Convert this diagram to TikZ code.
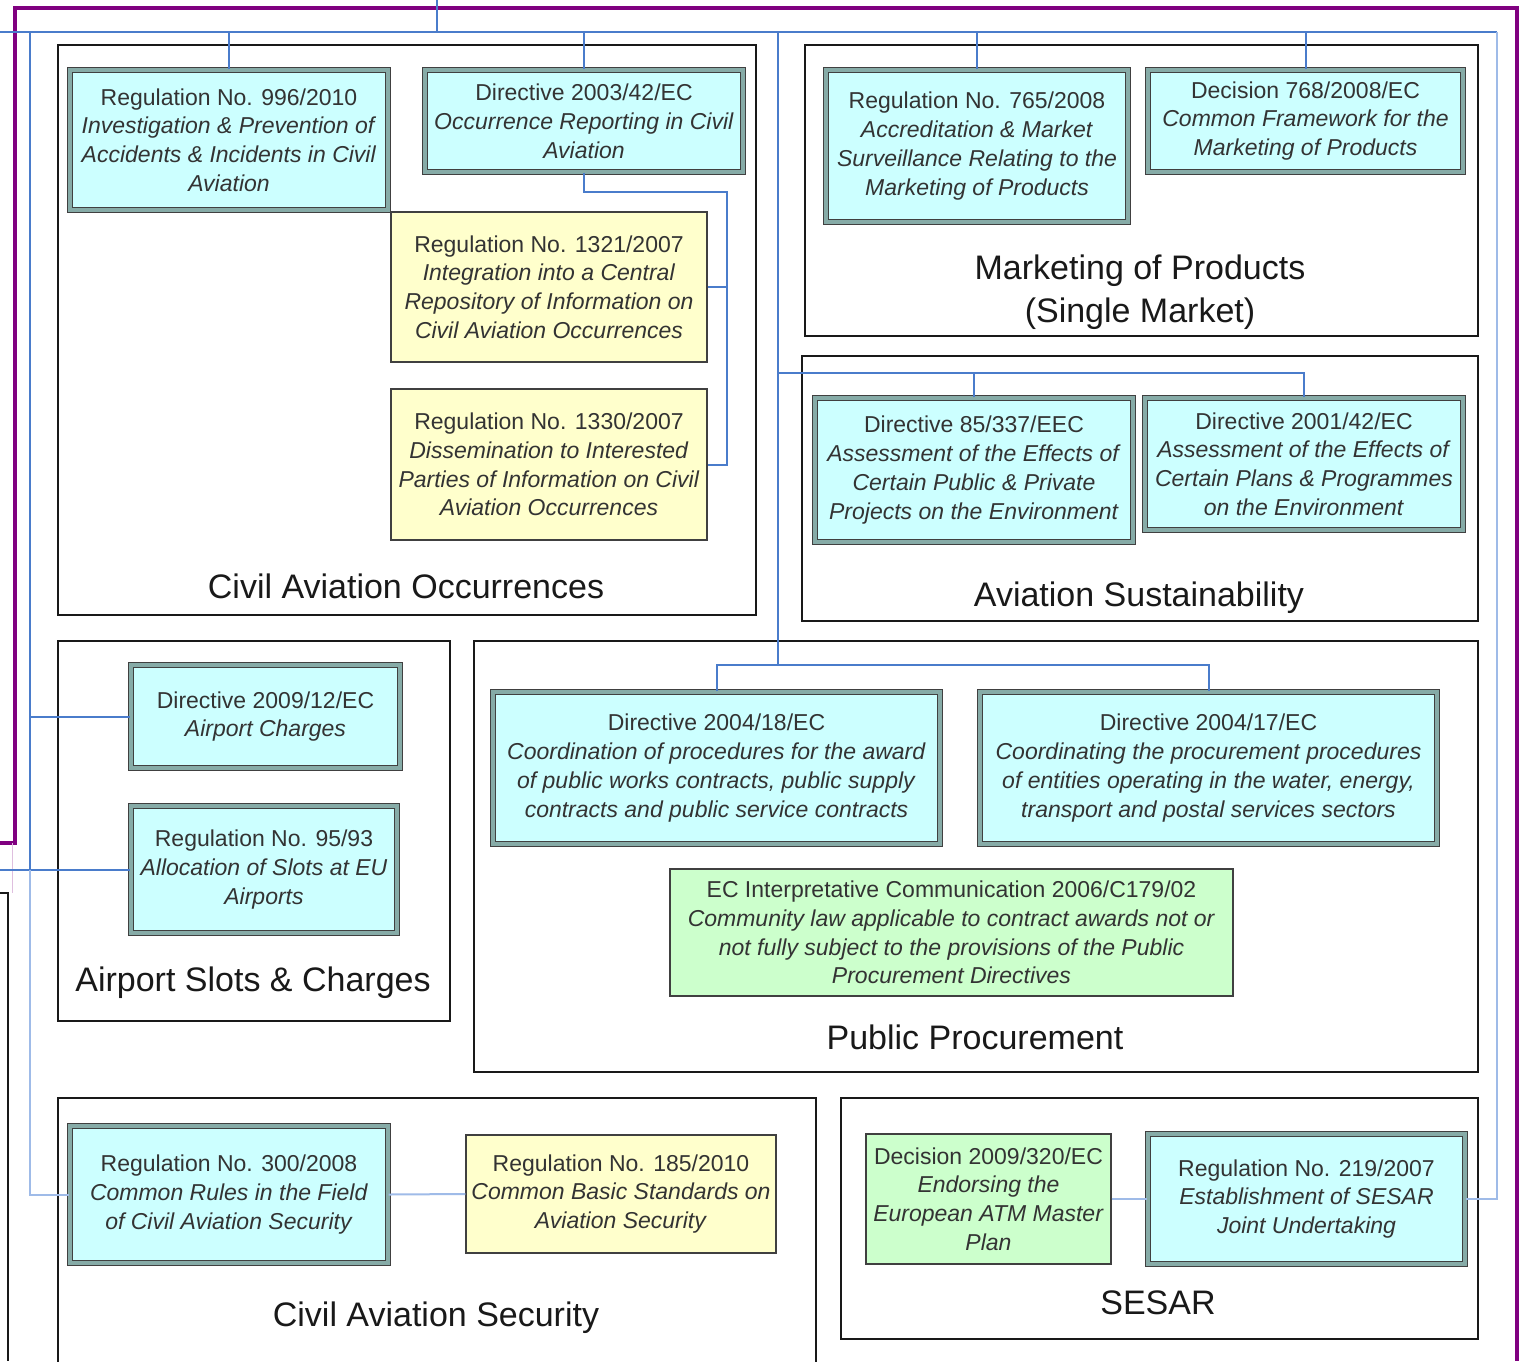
\documentclass[tikz,border=0pt]{standalone}
\usepackage{fontspec}
\setmainfont{Liberation Sans}
\definecolor{busblue}{HTML}{4A7CCB}
\definecolor{buslight}{HTML}{9FBBE8}
\definecolor{frameviolet}{HTML}{800080}
\definecolor{regcyan}{HTML}{CCFFFF}
\definecolor{regframe}{HTML}{86ABA7}
\definecolor{noteyellow}{HTML}{FFFFCC}
\definecolor{notegreen}{HTML}{CCFFCC}
\definecolor{boxtext}{HTML}{333333}

\begin{document}
\begin{tikzpicture}[x=0.5pt, y=-0.5pt,
    group/.style={draw=black!90, line width=1.4pt, fill=white},
    grouplabel/.style={anchor=base, text=black!90, font=\fontsize{17}{21.5}\selectfont},
    regbox/.style={draw=black!75, double=regframe, double distance=1.6pt, line width=0.6pt,
      fill=regcyan, align=center, inner sep=0pt, text=boxtext, font=\fontsize{11.5}{14.4}\selectfont},
    notebox/.style={draw=black!75, line width=0.7pt, fill=noteyellow, align=center,
      inner sep=0pt, text=boxtext, font=\fontsize{11.5}{14.4}\selectfont},
    greenbox/.style={notebox, fill=notegreen},
    bus/.style={draw=busblue, line width=1pt},
    buslight/.style={draw=buslight, line width=1pt}]
  \useasboundingbox (0,0) rectangle (1521,1361);
  \fill[white] (0,0) rectangle (1521,1361);

  % outer frames
  \draw[frameviolet, line width=1.8pt] (0,843) -- (15,843) -- (15,8) -- (1517,8) -- (1517,1361);
  \draw[frameviolet!25, line width=0.5pt] (12,843) -- (12,893);
  \draw[black!90, line width=1.4pt] (0,893) -- (8,893) -- (8,1361);

  % subject groups
  \draw[group] (58,45) rectangle (756,615);
  \node[grouplabel] (occlabel) at (406,598) {Civil Aviation Occurrences};
  \draw[group] (805,45) rectangle (1478,336);
  \node[grouplabel, anchor=center, align=center] (mktlabel) at (1140,292) {Marketing of Products\\(Single Market)};
  \draw[group] (802,356) rectangle (1478,621);
  \node[grouplabel] (suslabel) at (1139,606) {Aviation Sustainability};
  \draw[group] (58,641) rectangle (450,1021);
  \node[grouplabel] (slotlabel) at (253,991) {Airport Slots \& Charges};
  \draw[group] (474,641) rectangle (1478,1072);
  \node[grouplabel] (proclabel) at (975,1049) {Public Procurement};
  \draw[group] (58,1366) -- (58,1098) -- (816,1098) -- (816,1366);
  \node[grouplabel] (seclabel) at (436,1326) {Civil Aviation Security};
  \draw[group] (841,1098) rectangle (1478,1339);
  \node[grouplabel] (sesarlabel) at (1158,1314) {SESAR};

  % legislation boxes
  \node[regbox, minimum width=159pt, minimum height=70pt] (r996) at (229,140)
    {Regulation No. 996/2010\\\textit{Investigation \& Prevention of}\\\textit{Accidents \& Incidents in Civil}\\\textit{Aviation}};
  \node[regbox, minimum width=159pt, minimum height=51pt] (d2003) at (584,121)
    {Directive 2003/42/EC\\\textit{Occurrence Reporting in Civil}\\\textit{Aviation}};
  \node[notebox, minimum width=158pt, minimum height=75pt] (r1321) at (549,287)
    {Regulation No. 1321/2007\\\textit{Integration into a Central}\\\textit{Repository of Information on}\\\textit{Civil Aviation Occurrences}};
  \node[notebox, minimum width=158pt, minimum height=75.5pt] (r1330) at (549,464.5)
    {Regulation No. 1330/2007\\\textit{Dissemination to Interested}\\\textit{Parties of Information on Civil}\\\textit{Aviation Occurrences}};
  \node[regbox, minimum width=151pt, minimum height=76pt] (r765) at (977,146)
    {Regulation No. 765/2008\\\textit{Accreditation \& Market}\\\textit{Surveillance Relating to the}\\\textit{Marketing of Products}};
  \node[regbox, minimum width=157.5pt, minimum height=51pt] (d768) at (1305.5,121)
    {Decision 768/2008/EC\\\textit{Common Framework for the}\\\textit{Marketing of Products}};
  \node[regbox, minimum width=159pt, minimum height=72pt] (d85) at (974,470)
    {Directive 85/337/EEC\\\textit{Assessment of the Effects of}\\\textit{Certain Public \& Private}\\\textit{Projects on the Environment}};
  \node[regbox, minimum width=159pt, minimum height=66pt] (d2001) at (1304,464)
    {Directive 2001/42/EC\\\textit{Assessment of the Effects of}\\\textit{Certain Plans \& Programmes}\\\textit{on the Environment}};
  \node[regbox, minimum width=134.5pt, minimum height=51.5pt] (d2009) at (265.5,716.5)
    {Directive 2009/12/EC\\\textit{Airport Charges}};
  \node[regbox, minimum width=133pt, minimum height=63.5pt] (r95) at (264,869.5)
    {Regulation No. 95/93\\\textit{Allocation of Slots at EU}\\\textit{Airports}};
  \node[regbox, minimum width=223.5pt, minimum height=76pt] (d2004a) at (716.5,768)
    {Directive 2004/18/EC\\\textit{Coordination of procedures for the award}\\\textit{of public works contracts, public supply}\\\textit{contracts and public service contracts}};
  \node[regbox, minimum width=228.5pt, minimum height=76pt] (d2004b) at (1208.5,768)
    {Directive 2004/17/EC\\\textit{Coordinating the procurement procedures}\\\textit{of entities operating in the water, energy,}\\\textit{transport and postal services sectors}};
  \node[greenbox, minimum width=281.5pt, minimum height=63.5pt] (ec2006) at (951.5,932.5)
    {EC Interpretative Communication 2006/C179/02\\\textit{Community law applicable to contract awards not or}\\\textit{not fully subject to the provisions of the Public}\\\textit{Procurement Directives}};
  \node[regbox, minimum width=159pt, minimum height=68.5pt] (r300) at (229,1194.5)
    {Regulation No. 300/2008\\\textit{Common Rules in the Field}\\\textit{of Civil Aviation Security}};
  \node[notebox, minimum width=155pt, minimum height=59pt] (r185) at (621,1194)
    {Regulation No. 185/2010\\\textit{Common Basic Standards on}\\\textit{Aviation Security}};
  \node[greenbox, minimum width=122.5pt, minimum height=65pt] (d2009320) at (988.5,1199)
    {Decision 2009/320/EC\\\textit{Endorsing the}\\\textit{European ATM Master}\\\textit{Plan}};
  \node[regbox, minimum width=158.5pt, minimum height=65pt] (r219) at (1306.5,1199)
    {Regulation No. 219/2007\\\textit{Establishment of SESAR}\\\textit{Joint Undertaking}};

  % link lines
  \coordinate (feed) at (437,0);
  \coordinate (busL) at (0,32);
  \coordinate (busR) at (1497,32);
  \coordinate (trunkL) at (30,32);
  \coordinate (trunkM) at (778,32);
  \coordinate (susbus) at (778,373);
  \coordinate (procbus) at (778,665);
  \coordinate (occbus) at (727,192);

  \draw[bus] (feed) -- (feed |- busL);
  \draw[bus] (busL) -- (busR);
  \draw[buslight] (busR) -- (busR |- r219.east) -- (r219.east);
  \draw[bus] (r996.north) -- (r996.north |- busL);
  \draw[bus] (d2003.north) -- (d2003.north |- busL);
  \draw[bus] (r765.north) -- (r765.north |- busL);
  \draw[bus] (d768.north) -- (d768.north |- busL);
  \draw[bus] (d2003.south) -- (d2003.south |- occbus) -- (occbus) -- (occbus |- r1330.east) -- (r1330.east);
  \draw[bus] (r1321.east) -- (r1321.east -| occbus);
  \draw[bus] (trunkM) -- (procbus);
  \draw[bus] (susbus) -- (d2001.north |- susbus) -- (d2001.north);
  \draw[bus] (d85.north) -- (d85.north |- susbus);
  \draw[bus] (d2004a.north) -- (d2004a.north |- procbus) -- (d2004b.north |- procbus) -- (d2004b.north);
  \draw[bus] (trunkL) -- (trunkL |- r95.west);
  \draw[bus] (trunkL |- d2009.west) -- (d2009.west);
  \draw[bus] (busL |- r95.west) -- (r95.west);
  \draw[buslight] (trunkL |- r95.west) -- (trunkL |- r300.west) -- (r300.west);
  \draw[buslight] (r300.east) -- (r185.west);
  \draw[buslight] (d2009320.east) -- (r219.west);
\end{tikzpicture}
\end{document}
